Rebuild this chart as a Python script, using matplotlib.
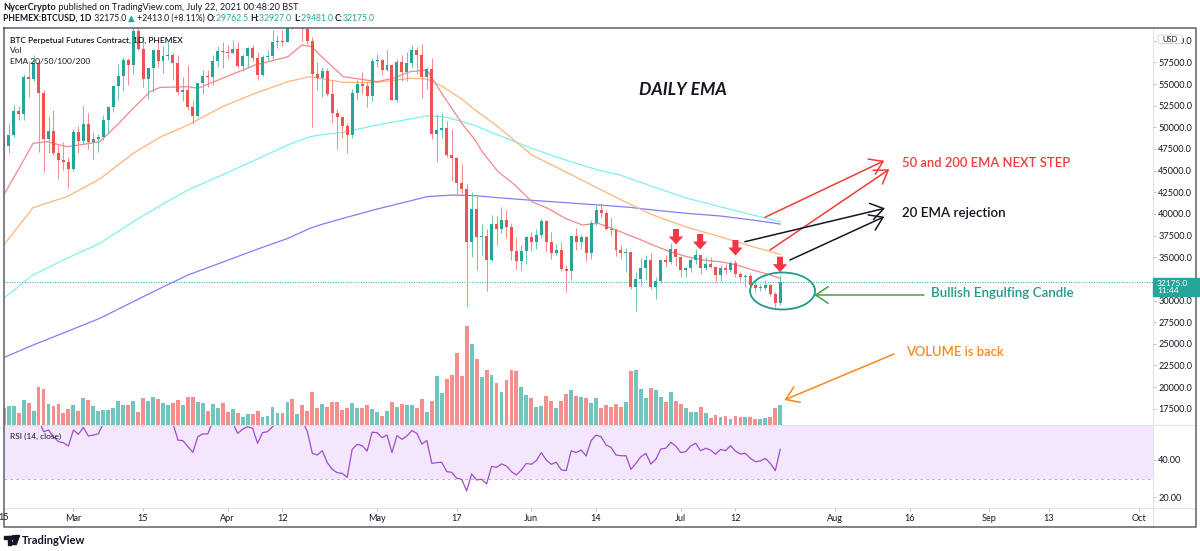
import numpy as np
import matplotlib.pyplot as plt
from matplotlib.patches import Ellipse, Polygon, Rectangle, FancyBboxPatch, Circle

FONT = ['Lato', 'DejaVu Sans']
plt.rcParams['font.family'] = FONT

# PHEMEX:BTCUSD daily candles, day 0 = 15 Feb 2021 ... day 156 = 21 Jul 2021 (thousand USD)
opens = [48.4, 47.8, 49.1, 51.9, 51.5, 55.8, 55.6, 57.4, 54.0, 48.7,
         49.6, 47.0, 46.2, 46.0, 45.2, 49.5, 48.4, 50.4, 48.3, 48.7,
         48.9, 50.9, 52.3, 54.8, 55.9, 57.8, 57.2, 61.1, 59.0, 55.6,
         56.9, 58.9, 57.6, 58.2, 58.3, 57.4, 54.1, 54.3, 52.3, 51.3,
         55.1, 55.9, 55.8, 57.6, 58.8, 58.7, 58.6, 59.0, 57.1, 58.2,
         59.1, 58.0, 56.0, 58.1, 58.2, 59.8, 59.9, 59.8, 63.6, 62.9,
         63.2, 61.4, 60.0, 56.2, 55.7, 56.5, 53.8, 51.7, 51.2, 50.1,
         49.1, 54.0, 55.0, 54.8, 53.6, 57.7, 57.8, 56.6, 57.2, 53.2,
         57.5, 56.4, 57.4, 58.9, 58.3, 55.8, 56.7, 49.2, 49.7, 49.9,
         46.8, 46.4, 43.6, 42.9, 36.7, 40.6, 37.3, 37.5, 34.7, 38.8,
         38.3, 39.3, 38.5, 35.7, 34.6, 35.7, 37.3, 36.7, 37.6, 39.2,
         36.8, 35.5, 35.8, 33.6, 33.4, 37.4, 36.7, 37.3, 35.5, 39.0,
         40.5, 40.1, 38.3, 38.1, 35.8, 35.5, 35.6, 31.6, 32.5, 33.7,
         34.7, 31.6, 32.2, 34.7, 34.5, 35.9, 35.0, 33.5, 33.8, 34.7,
         35.3, 33.7, 34.2, 33.9, 32.9, 33.8, 33.5, 34.3, 33.1, 32.7,
         32.8, 31.8, 31.4, 31.5, 31.8, 30.8, 29.7625]
highs = [49.0, 50.5, 52.6, 52.5, 56.2, 57.6, 58.3, 57.6, 54.3, 51.3,
         52.0, 48.0, 48.3, 46.6, 49.8, 50.2, 52.5, 51.7, 49.4, 49.2,
         51.4, 52.4, 54.9, 57.3, 58.1, 58.0, 61.8, 61.6, 60.6, 56.9,
         58.9, 60.0, 59.4, 59.9, 58.6, 58.4, 55.8, 57.2, 53.2, 55.1,
         56.6, 56.6, 58.4, 59.4, 59.8, 59.5, 60.1, 59.8, 58.5, 59.3,
         59.5, 58.7, 58.4, 58.9, 61.2, 60.7, 61.2, 63.8, 64.9, 63.8,
         63.6, 62.5, 60.4, 57.5, 57.0, 56.8, 55.5, 52.1, 51.2, 50.5,
         54.4, 55.5, 56.4, 55.2, 58.0, 58.5, 57.9, 58.9, 57.2, 57.9,
         58.4, 58.7, 59.5, 59.3, 59.6, 57.0, 58.0, 51.5, 51.6, 50.7,
         49.8, 46.6, 45.8, 43.5, 42.5, 42.2, 38.8, 38.3, 39.9, 39.8,
         40.8, 40.4, 38.9, 37.3, 36.4, 37.5, 37.9, 38.2, 39.5, 39.3,
         37.9, 36.5, 36.8, 34.1, 37.5, 38.4, 37.7, 37.4, 39.3, 41.0,
         41.3, 40.5, 39.5, 38.2, 36.4, 36.1, 35.7, 33.3, 34.9, 35.3,
         35.5, 32.7, 34.7, 35.3, 36.6, 36.1, 35.0, 33.9, 34.9, 35.9,
         35.3, 35.0, 35.0, 33.9, 34.1, 34.2, 34.6, 34.7, 33.3, 33.1,
         33.2, 32.2, 31.9, 32.4, 31.9, 31.0, 32.927]
lows = [46.4, 47.0, 48.9, 50.9, 50.8, 53.5, 55.4, 47.2, 44.8, 47.0,
        46.8, 44.0, 45.1, 43.0, 45.0, 47.0, 48.1, 47.5, 46.3, 47.1,
        48.5, 49.4, 51.8, 53.1, 54.2, 54.9, 56.1, 58.9, 54.6, 53.3,
        54.1, 57.0, 56.3, 57.8, 55.5, 53.7, 53.0, 52.0, 50.4, 51.2,
        53.9, 54.7, 54.9, 57.0, 56.9, 57.9, 58.5, 56.9, 56.5, 56.8,
        57.6, 55.5, 55.9, 57.7, 57.9, 59.2, 59.4, 59.8, 61.3, 62.0,
        60.0, 59.6, 50.0, 54.3, 53.5, 53.6, 50.5, 47.5, 48.8, 47.0,
        48.8, 53.1, 53.9, 52.4, 53.0, 57.0, 56.0, 56.5, 53.1, 52.9,
        55.3, 55.3, 56.9, 56.2, 53.4, 54.4, 48.6, 46.0, 48.8, 46.6,
        43.8, 42.1, 42.3, 29.3, 35.0, 33.5, 35.3, 31.1, 34.6, 36.4,
        37.8, 37.2, 34.7, 33.6, 33.4, 34.2, 35.7, 35.9, 37.2, 35.6,
        34.8, 35.3, 33.4, 31.0, 32.4, 35.8, 35.9, 34.6, 34.8, 38.7,
        39.5, 38.1, 37.4, 35.1, 34.8, 33.3, 31.3, 28.8, 31.7, 32.4,
        31.3, 30.2, 32.0, 33.9, 34.2, 34.0, 32.7, 32.7, 33.3, 34.2,
        33.1, 33.5, 33.8, 32.1, 32.3, 33.1, 33.3, 32.7, 32.2, 31.6,
        31.1, 31.0, 31.1, 31.2, 30.5, 29.3, 29.481]
closes = [47.8, 49.1, 51.9, 51.5, 55.8, 55.6, 57.4, 54.0, 48.7, 49.6,
          47.0, 46.2, 46.0, 45.2, 49.5, 48.4, 50.4, 48.3, 48.7, 48.9,
          50.9, 52.3, 54.8, 55.9, 57.8, 57.2, 61.1, 59.0, 55.6, 56.9,
          58.9, 57.6, 58.2, 58.3, 57.4, 54.1, 54.3, 52.3, 51.3, 55.1,
          55.9, 55.8, 57.6, 58.8, 58.7, 58.6, 59.0, 57.1, 58.2, 59.1,
          58.0, 56.0, 58.1, 58.2, 59.8, 59.9, 59.8, 63.6, 62.9, 63.2,
          61.4, 60.0, 56.2, 55.7, 56.5, 53.8, 51.7, 51.2, 50.1, 49.1,
          54.0, 55.0, 54.8, 53.6, 57.7, 57.8, 56.6, 57.2, 53.2, 57.5,
          56.4, 57.4, 58.9, 58.3, 55.8, 56.7, 49.2, 49.7, 49.9, 46.8,
          46.4, 43.6, 42.9, 36.7, 40.6, 37.3, 37.5, 34.7, 38.8, 38.3,
          39.3, 38.5, 35.7, 34.6, 35.7, 37.3, 36.7, 37.6, 39.2, 36.8,
          35.5, 35.8, 33.6, 33.4, 37.4, 36.7, 37.3, 35.5, 39.0, 40.5,
          40.1, 38.3, 38.1, 35.8, 35.5, 35.6, 31.6, 32.5, 33.7, 34.7,
          31.6, 32.2, 34.7, 34.5, 35.9, 35.0, 33.5, 33.8, 34.7, 35.3,
          33.7, 34.2, 33.9, 32.9, 33.8, 33.5, 34.3, 33.1, 32.7, 32.8,
          31.8, 31.4, 31.5, 31.8, 30.8, 29.76, 32.175]

# volume, relative units
volume = [17.3, 19, 19, 12.3, 25, 21.7, 14.3, 38.3, 35.7, 20.7,
          19, 20.7, 12.3, 15.7, 20, 14, 27.3, 25, 19, 14,
          15, 15, 17.3, 24, 20, 20, 24, 13.3, 27.3, 24,
          28.3, 25.7, 22.3, 20, 21.7, 25, 20, 27.7, 27.7, 23,
          22.3, 14.3, 21, 16.7, 21.7, 13.3, 15.7, 12.3, 8.3, 11,
          11, 14.3, 8, 9, 18.3, 12.3, 12.3, 22.7, 26, 11,
          20, 14, 33.3, 16.7, 20.7, 18.3, 23.3, 23, 15, 16.7,
          22.3, 16.7, 17.3, 20, 16, 13, 9.3, 14.3, 23, 18.3,
          20.7, 20, 20, 17.3, 26.3, 13.3, 24, 49, 31.7, 46,
          50, 71.7, 49.3, 99, 80.7, 65.7, 48, 54.7, 50, 42,
          33.3, 44.7, 54.7, 54, 38.3, 30, 26.7, 17.7, 19, 29,
          24, 17, 23.7, 31.3, 35, 29, 27.7, 26.7, 21.7, 27.3,
          17, 20, 18.3, 21, 18, 23.3, 54, 55, 36, 26.7,
          37.3, 35, 27.7, 22.7, 33.3, 24.3, 21, 16.7, 13.3, 12.7,
          18.3, 11.7, 6.7, 10, 8.3, 9, 6, 9.3, 8.3, 7.7,
          8.3, 6, 5.7, 7, 8.3, 16.7, 20]

rsi = [66, 68, 72, 70, 75, 74, 76, 62, 55.1, 56.0,
       52.4, 49.8, 49.2, 47.4, 56.0, 53.7, 57.4, 52.8, 53.3, 53.9,
       59.5, 62, 65, 66, 68, 67, 72, 66, 58.2, 61,
       64, 61, 62, 62, 59.5, 50.6, 50.3, 47.1, 44.0, 52.4,
       53.9, 53.9, 60.5, 63, 62, 61.5, 60, 54.2, 56.4, 57.8,
       56.9, 48.9, 54.6, 55.1, 57.8, 60, 60, 66, 64, 65,
       61, 55.1, 43.5, 42.6, 44.9, 38.5, 34.9, 33.1, 32.8, 30.6,
       45.6, 48.3, 47.6, 44.7, 54.8, 54.6, 51.9, 53.3, 43.9, 53.0,
       51.0, 52.8, 55.7, 54.2, 48.5, 50.3, 38.1, 38.5, 38.7, 33.7,
       33.3, 30.1, 29.6, 23.3, 32.4, 29.2, 29.6, 27.1, 36.4, 36.0,
       37.8, 36.7, 33.7, 31.9, 34.6, 38.1, 37.6, 39.6, 43.9, 39.9,
       37.6, 38.7, 34.6, 34.2, 44.9, 43.9, 45.3, 42.1, 50.3, 53.3,
       52.4, 48.0, 46.7, 42.6, 42.2, 42.2, 34.9, 38.1, 41.7, 43.5,
       37.8, 40.3, 45.8, 46.2, 49.4, 47.4, 43.9, 44.4, 47.4, 48.9,
       44.9, 46.2, 45.3, 43.0, 45.6, 44.9, 47.6, 44.7, 43.1, 43.5,
       40.8, 39.0, 39.4, 40.8, 38.1, 34.2, 45.6]

# EMA lines (day, thousand USD)
ema20_days = [0, 2.7, 5.9, 8.7, 12.7, 16, 19.3, 22.8, 26, 29.4, 31.4, 37, 39, 43.9, 50.5,
              57.1, 59.9, 61.9, 63.5, 68.2, 75, 78.2, 81.6, 85, 88.2, 92.3, 94.7, 96.1,
              99.3, 102.7, 106.1, 109.3, 112.8, 116.2, 119.4, 122.8, 125.8, 127.2, 130.4,
              133.8, 137.3, 140.5, 143.9, 147.3, 150.5, 154, 156]
ema20 = [42.18, 44.88, 48.15, 48.34, 47.76, 48.03, 48.34, 50.26, 52.19, 54.11, 54.6, 54.69,
         54.5, 55.65, 57.19, 58.15, 59.5, 59.31, 58.35, 55.85, 55.27, 55.65, 56.42, 56.62,
         53.73, 50.26, 48.53, 47.19, 44.88, 43.34, 41.41, 40.64, 39.49, 38.72, 38.91, 38.2,
         37.5, 37.2, 36.41, 35.64, 35.06, 34.67, 34.48, 34.1, 33.52, 32.94, 32.56]
ema50_days = [0, 5.9, 12.7, 19.3, 26, 31.4, 37, 43.9, 50.5, 57.1, 61.5, 63.5, 68.2, 75, 81.6,
              85, 88.2, 92.3, 94.7, 99.3, 106.1, 112.8, 119.4, 123.8, 130.4, 137.3, 143.9,
              150.5, 156]
ema50 = [36.41, 40.72, 41.99, 44.03, 46.99, 48.86, 50.26, 52.38, 53.92, 55.27, 55.85, 55.65,
         55.19, 55.19, 55.65, 55.58, 54.69, 53.15, 52.0, 50.07, 46.8, 44.88, 42.95, 41.68,
         39.87, 38.45, 37.37, 36.21, 35.33]
ema100_days = [0, 5.9, 12.7, 19.3, 26, 31.4, 37, 43.9, 50.5, 57.1, 61.5, 63.5, 68.2, 75, 81.6,
               85, 88.2, 92.3, 94.7, 99.3, 106.1, 112.8, 119.4, 123.8, 130.4, 137.3, 143.9,
               150.5, 156]
ema100 = [30.25, 32.95, 34.87, 36.6, 39.1, 40.93, 42.76, 44.49, 46.22, 47.96, 48.92, 49.11,
          49.42, 50.26, 50.96, 51.31, 51.23, 50.65, 50.19, 49.11, 47.57, 46.22, 45.07, 44.49,
          43.14, 41.8, 40.83, 39.87, 39.1]
ema200_days = [0, 5.9, 12.7, 19.3, 26, 31.4, 37, 43.9, 50.5, 57.1, 61.5, 63.5, 68.2, 75, 81.6,
               85, 90.3, 94.7, 99.3, 106.1, 112.8, 119.4, 125.8, 130.4, 137.3, 143.9, 150.5, 156]
ema200 = [23.4, 24.86, 26.41, 27.94, 29.86, 31.4, 32.94, 34.41, 35.83, 37.18, 38.33, 38.72,
          39.49, 40.56, 41.49, 41.99, 42.18, 42.11, 41.87, 41.57, 41.3, 41.03, 40.76, 40.45,
          40.06, 39.76, 39.29, 38.83]

tick_days = [14, 28, 45, 56, 75, 91, 106, 119, 136, 147, 167, 182, 198, 210, 228]
tick_labels = ['Mar', '15', 'Apr', '12', 'May', '17', 'Jun', '14', 'Jul', '12',
               'Aug', '16', 'Sep', '13', 'Oct']
price_ticks = list(range(17500, 60001, 2500))
last_price = 32175.0

# colours
UP, DOWN = '#26a69a', '#ef5350'
UP_WICK, DOWN_WICK = '#72c4bb', '#f28e8b'
VOL_UP, VOL_DOWN = '#72c5be', '#f48f8d'
TXT = '#131722'
AX_FS = 6.6

# layout (pixels of the 1200x551 canvas)
W, H = 1200, 551
DAY0_PX, PX_PER_DAY = 3.7, 4.978
P60_PX, PX_PER_USD = 40.7, 21.65 / 2500
L_PX, R_PX, FRAME_R = 4, 1153, 1196
TOP_PX, MAIN_BOT, RSI_BOT, FRAME_B = 27.7, 425, 508.3, 527
RSI30_PX, PX_PER_RSI = 478.5, 1.865


def rect(l, t, r, b):
    return [l / W, 1 - b / H, (r - l) / W, (b - t) / H]


fig = plt.figure(figsize=(W / 100, H / 100), dpi=100)
fig.patch.set_facecolor('white')

xlim = ((L_PX - DAY0_PX) / PX_PER_DAY, (R_PX - DAY0_PX) / PX_PER_DAY)
price_top = 60000 + (P60_PX - TOP_PX) / PX_PER_USD
price_bot = 60000 - (MAIN_BOT - P60_PX) / PX_PER_USD

vax = fig.add_axes(rect(L_PX, TOP_PX, R_PX, MAIN_BOT))
ax = fig.add_axes(rect(L_PX, TOP_PX, R_PX, MAIN_BOT))
rax = fig.add_axes(rect(L_PX, MAIN_BOT, R_PX, RSI_BOT))
ax.patch.set_alpha(0)
for a in (vax, ax, rax):
    a.set_xlim(*xlim)
    for s in a.spines.values():
        s.set_visible(False)

o, h, l, c = (np.array(v) * 1000 for v in (opens, highs, lows, closes))
days = np.arange(len(c))
up = c >= o

# volume overlay
vol = np.array(volume)
vax.bar(days, vol, width=0.78, color=np.where(up, VOL_UP, VOL_DOWN), lw=0)
vax.set_ylim(0, vol.max() * (MAIN_BOT - TOP_PX) / 99)
vax.set_xticks([])
vax.set_yticks([])

# EMAs
ax.plot(ema200_days, np.array(ema200) * 1000, color='#7f7ff5', lw=0.9, zorder=2)
ax.plot(ema100_days, np.array(ema100) * 1000, color='#7ff0f0', lw=0.9, zorder=2)
ax.plot(ema50_days, np.array(ema50) * 1000, color='#ffb47a', lw=0.9, zorder=2)
ax.plot(ema20_days, np.array(ema20) * 1000, color='#f7868a', lw=0.9, zorder=2)

# candles
ax.vlines(days, l, h, colors=np.where(up, UP_WICK, DOWN_WICK), lw=0.75, zorder=3)
body_h = np.maximum(np.abs(c - o), 1.0 / PX_PER_USD)
ax.bar(days, body_h, bottom=np.minimum(o, c), width=0.6,
       color=np.where(up, UP, DOWN), lw=0, zorder=4)
ax.axhline(last_price, color=UP, lw=0.7, ls=(0, (1, 1.6)), zorder=1)

ax.set_ylim(price_bot, price_top)
ax.set_xticks([])
ax.yaxis.tick_right()
ax.set_yticks(price_ticks)
# the 32500 label sits under the last-price tag
ax.set_yticklabels(['' if p == 32500 else f'{p:.1f}' for p in price_ticks])
ax.tick_params(axis='y', length=2.2, width=0.6, color='#b2b5be', labelsize=AX_FS,
               labelcolor=TXT, pad=1.5)

# RSI pane
rax.axhspan(30, 70, color='#f4e6fc', lw=0, zorder=0)
rax.axhline(30, color='#c3b0d6', lw=0.7, ls=(0, (3, 3)), zorder=1)
rax.plot(days, rsi, color='#a04fcb', lw=0.9, zorder=2)
rax.set_ylim(30 - (RSI_BOT - RSI30_PX) / PX_PER_RSI, 30 + (RSI30_PX - MAIN_BOT) / PX_PER_RSI)
rax.yaxis.tick_right()
rax.set_yticks([20, 40])
rax.set_yticklabels(['20.00', '40.00'])
rax.set_xticks(tick_days)
rax.set_xticklabels(tick_labels)
rax.tick_params(axis='y', length=2.2, width=0.6, color='#b2b5be', labelsize=AX_FS,
                labelcolor=TXT, pad=1.5)
rax.tick_params(axis='x', length=2.2, width=0.6, color='#b2b5be', labelsize=AX_FS,
                labelcolor=TXT, pad=2.0)

# ---- annotations (chart drawings)
ax.text(127.6, 54360, 'DAILY EMA', fontsize=12.6, fontweight='bold', fontstyle='italic',
        color=TXT, va='center', ha='left')
ax.text(180.45, 45880, '50 and 200 EMA NEXT STEP', fontsize=9.4, fontweight='semibold',
        color='#f03e3e', va='center', ha='left')
ax.text(180.45, 40160, '20 EMA rejection', fontsize=9.6, fontweight='semibold',
        color=TXT, va='center', ha='left')
ax.text(186.3, 30920, 'Bullish Engulfing Candle', fontsize=9.6, fontweight='semibold',
        color='#1f9a8b', va='center', ha='left')
ax.text(181.3, 24110, 'VOLUME is back', fontsize=9.4, fontweight='semibold',
        color='#f7891e', va='center', ha='left')


def arrow(start, end, color):
    ax.annotate('', xy=end, xytext=start, annotation_clip=False,
                arrowprops=dict(arrowstyle='->,head_length=0.45,head_width=0.3',
                                color=color, lw=1.1, shrinkA=0, shrinkB=0,
                                mutation_scale=20))


arrow((152.93, 39607), (176.9, 46143), '#ef3b36')
arrow((153.94, 35831), (177.9, 45150), '#ef3b36')
arrow((148.9, 36790), (177.04, 40647), TXT)
arrow((157.95, 34677), (176.9, 39677), TXT)
arrow((184.87, 30635), (162.84, 30635), '#43a047')
arrow((178.85, 23822), (156.81, 18510), '#f7891e')

ax.add_patch(Ellipse((156.45, 31097), 13.06, 37 / PX_PER_USD, fill=False,
                     ec='#1f9a8b', lw=1.3, zorder=6))

# red block arrows pointing at the rejections
shape = [(-3, 0), (3, 0), (3, 7.5), (7.2, 7.5), (0, 15.5), (-7.2, 7.5), (-3, 7.5)]
for d, p in [(135.05, 38256), (139.9, 37679), (147.0, 36986), (155.95, 35058)]:
    pts = [(d + dx / PX_PER_DAY, p - dy / PX_PER_USD) for dx, dy in shape]
    ax.add_patch(Polygon(pts, closed=True, fc='#f23645', ec='none', zorder=7))

# ---- overlay in pixel coordinates: frame, header, legend, boxes
ov = fig.add_axes([0, 0, 1, 1])
ov.set_xlim(0, W)
ov.set_ylim(H, 0)
ov.axis('off')
ov.patch.set_alpha(0)

ov.plot([L_PX, FRAME_R], [MAIN_BOT, MAIN_BOT], color='#e0e3eb', lw=0.8)
ov.plot([L_PX, FRAME_R], [RSI_BOT, RSI_BOT], color='#e0e3eb', lw=0.8)
ov.plot([R_PX, R_PX], [TOP_PX, FRAME_B], color='#e0e3eb', lw=0.8)
ov.plot([3.5, FRAME_R, FRAME_R, 3.5, 3.5], [TOP_PX, TOP_PX, FRAME_B, FRAME_B, TOP_PX],
        color='#5d606b', lw=1.1)

renderer = fig.canvas.get_renderer()


def rich(x, y, parts, size):
    for s, color, weight in parts:
        t = ov.text(x, y, s, color=color, fontsize=size, fontweight=weight,
                    va='center', ha='left')
        x += t.get_window_extent(renderer).width


rich(3.3, 7.3, [('NycerCrypto', TXT, 'bold'),
                (' published on TradingView.com, July 22, 2021 00:48:20 BST', TXT, 'normal')], 6.55)
rich(3.3, 18.3, [('PHEMEX:BTCUSD, 1D', TXT, 'bold'), (' 32175.0 ', TXT, 'normal'),
                 ('▲', UP, 'normal'), (' +2413.0 (+8.11%) ', TXT, 'normal'),
                 ('O:', TXT, 'bold'), ('29762.5 ', UP, 'normal'),
                 ('H:', TXT, 'bold'), ('32927.0 ', UP, 'normal'),
                 ('L:', TXT, 'bold'), ('29481.0 ', UP, 'normal'),
                 ('C:', TXT, 'bold'), ('32175.0', UP, 'normal')], 6.25)

ov.text(10, 40, 'BTC Perpetual Futures Contract, 1D, PHEMEX', fontsize=6.0,
        fontweight='semibold', color=TXT, va='center')
ov.text(10, 50.5, 'Vol', fontsize=6.0, color=TXT, va='center')
ov.text(10, 61, 'EMA 20/50/100/200', fontsize=6.0, color=TXT, va='center')
ov.text(10, 436.5, 'RSI (14, close)', fontsize=6.0, color=TXT, va='center')
ov.text(DAY0_PX, 517.5, '15', fontsize=AX_FS, color=TXT, va='center', ha='center')

# last price tag
y_last = P60_PX + (60000 - last_price) * PX_PER_USD
ov.add_patch(Rectangle((R_PX, y_last - 3.6), 1199 - R_PX, 18, color=UP, zorder=5))
ov.text(1157, y_last + 1.9, '32175.0', fontsize=6.0, color='white', va='center', zorder=6)
ov.text(1157, y_last + 9.3, '11:44', fontsize=6.0, color='white', va='center', zorder=6)

# USD box (covers the middle of the 60000.0 label, as in the screenshot)
ov.add_patch(FancyBboxPatch((1158, 35.0), 24.5, 8.4, boxstyle='round,pad=0,rounding_size=2',
                            fc='white', ec='#d1d4dc', lw=0.6, zorder=5))
ov.text(1170.2, 39.2, 'USD', fontsize=5.4, color=TXT, va='center', ha='center', zorder=6)

# TradingView logo
ov.add_patch(Rectangle((4, 535.5), 7.5, 3, color=TXT))
ov.add_patch(Rectangle((7.6, 535.5), 3.2, 9, color=TXT))
ov.add_patch(Circle((13.6, 537.2), 1.6, color=TXT))
ov.add_patch(Polygon([(15.6, 535.5), (19.6, 535.5), (16.2, 544.5), (12.2, 544.5)], color=TXT))
ov.text(22, 540, 'TradingView', fontsize=8, fontweight='bold', color=TXT, va='center')

fig.savefig('out.png', dpi=100)
